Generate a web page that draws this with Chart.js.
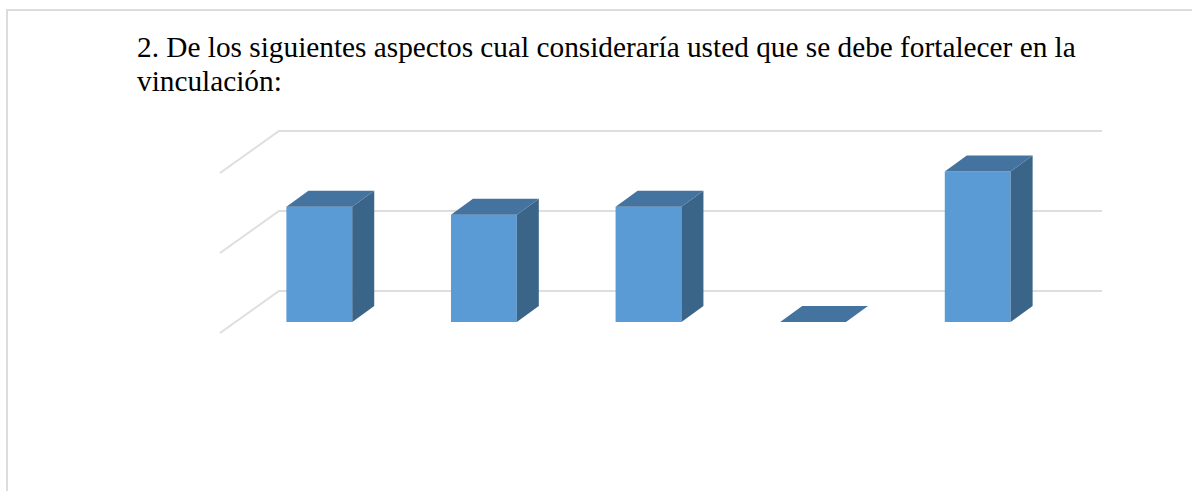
<!DOCTYPE html>
<html>
<head>
<meta charset="utf-8">
<script src="https://cdn.jsdelivr.net/npm/chart.js@4/dist/chart.umd.min.js"></script>
<style>
  html, body { margin: 0; padding: 0; background: #fff; }
  body { width: 1192px; height: 491px; position: relative; overflow: hidden; }
  #frame {
    position: absolute; left: 6px; top: 9px; right: -4px; bottom: -4px;
    border-top: 2px solid #dcdcdc; border-left: 2px solid #dcdcdc;
  }
  #title {
    position: absolute; left: 137px; top: 30px;
    font-family: "Liberation Serif", "Times New Roman", serif;
    font-size: 29.3px; line-height: 34px; color: #000; white-space: nowrap;
  }
  #chart { position: absolute; left: 0; top: 0; }
</style>
</head>
<body>
<div id="frame"></div>
<div id="title">2. De los siguientes aspectos cual consideraría usted que se debe fortalecer en la<br>vinculación:</div>
<canvas id="chart" width="1192" height="491"></canvas>
<script>
// data (axis labels are hidden in the original)
const categories = ['Aspecto 1', 'Aspecto 2', 'Aspecto 3', 'Aspecto 4', 'Aspecto 5'];
const values = [14.4, 13.4, 14.4, 0, 18.8];
const yTicks = [0, 10, 20];

// fake 3D: front face by Chart.js, top/side faces + back wall grid by plugin
const depth = { dx: 22, dy: -16 };
const wallBack = { dx: 42, dy: -31 };
const wallFront = { dx: -17, dy: 11 };

const grid3d = {
    id: 'grid3d',
    beforeDatasetsDraw(chart) {
        const ctx = chart.ctx;
        const x = chart.scales.x, y = chart.scales.y;
        ctx.save();
        ctx.strokeStyle = '#dedede';
        ctx.lineWidth = 2;
        yTicks.forEach(v => {
            const py = y.getPixelForValue(v);
            ctx.beginPath();
            ctx.moveTo(x.left + wallFront.dx, py + wallFront.dy);
            ctx.lineTo(x.left + wallBack.dx, py + wallBack.dy);
            ctx.lineTo(x.right + wallBack.dx, py + wallBack.dy);
            ctx.stroke();
        });
        ctx.restore();
    },
    afterDatasetsDraw(chart) {
        const ctx = chart.ctx;
        const meta = chart.getDatasetMeta(0);
        ctx.save();
        meta.data.forEach(bar => {
            const l = bar.x - bar.width / 2, r = bar.x + bar.width / 2;
            const t = bar.y, b = bar.base;
            // side
            ctx.fillStyle = '#3a6588';
            ctx.beginPath();
            ctx.moveTo(r, t);
            ctx.lineTo(r + depth.dx, t + depth.dy);
            ctx.lineTo(r + depth.dx, b + depth.dy);
            ctx.lineTo(r, b);
            ctx.closePath();
            ctx.fill();
            // top
            ctx.fillStyle = '#4473a0';
            ctx.beginPath();
            ctx.moveTo(l, t);
            ctx.lineTo(l + depth.dx, t + depth.dy);
            ctx.lineTo(r + depth.dx, t + depth.dy);
            ctx.lineTo(r, t);
            ctx.closePath();
            ctx.fill();
        });
        ctx.restore();
    }
};

new Chart(document.getElementById('chart').getContext('2d'), {
    type: 'bar',
    data: {
        labels: categories,
        datasets: [{
            data: values,
            backgroundColor: '#5b9bd5',
            borderWidth: 0,
            categoryPercentage: 0.4,
            barPercentage: 1
        }]
    },
    options: {
        responsive: false,
        animation: false,
        layout: { padding: { left: 237, right: 132, top: 162, bottom: 169 } },
        plugins: { legend: { display: false }, tooltip: { enabled: false } },
        scales: {
            x: { display: false },
            y: { display: false, min: 0, max: 20 }
        }
    },
    plugins: [grid3d]
});
</script>
</body>
</html>
